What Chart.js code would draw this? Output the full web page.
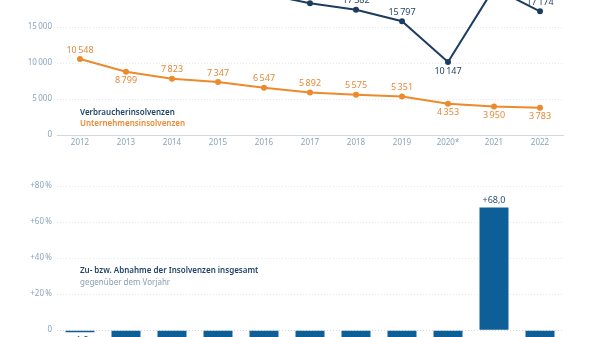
<!DOCTYPE html>
<html>
<head>
<meta charset="utf-8">
<script src="https://cdn.jsdelivr.net/npm/chart.js@4.4.0/dist/chart.umd.min.js"></script>
<style>
  html, body { margin: 0; padding: 0; background: #fff; }
  #wrap { position: relative; width: 600px; height: 337px; overflow: hidden; font-family: "Noto Sans", sans-serif; }
  #topBox { position: absolute; left: 0; top: -65px; width: 600px; height: 220px; }
  #barBox { position: absolute; left: 0; top: 152px; width: 600px; height: 260px; }
  .note { position: absolute; left: 80px; font-size: 8px; white-space: nowrap; }
  .blue { color: #22446a; font-weight: 600; }
  .orange { color: #ea8a33; font-weight: 600; }
  .sub { color: #8aa0b4; }
</style>
</head>
<body>
<div id="wrap">
  <div id="topBox"><canvas id="lineChart"></canvas></div>
  <div id="barBox"><canvas id="barChart"></canvas></div>
  <div class="note blue" style="top:106px">Verbraucherinsolvenzen</div>
  <div class="note orange" style="top:117px">Unternehmensinsolvenzen</div>
  <div class="note blue" style="top:264px">Zu- bzw. Abnahme der Insolvenzen insgesamt</div>
  <div class="note sub" style="top:276px">gegenüber dem Vorjahr</div>
</div>
<script>
// Insolvenzen 2012–2022: Verbraucher, Unternehmen, Veränderung gesamt in %
const years = ["2012", "2013", "2014", "2015", "2016", "2017", "2018", "2019", "2020*", "2021", "2022"];
const verbraucher = [24500, 23400, 22300, 21000, 19600, 18300, 17382, 15797, 10147, 20400, 17174];
const unternehmen = [10548, 8799, 7823, 7347, 6547, 5892, 5575, 5351, 4353, 3950, 3783];
const veraenderung = [-1.2, -8.1, -6.4, -5.9, -7.8, -7.5, -5.1, -7.9, -31.4, 68.0, -13.9];

const NAVY = "#1d3c5f";
const ORANGE = "#ec8a2c";
const BAR = "#0e5e98";
const TICK = "#8aa4bb";
const GRID = "#e3e6ea";
const FONT = "Noto Sans";

// Label unter dem Punkt statt darüber
const navyBelow = ["2020*"];
const orangeBelow = ["2013", "2020*", "2021", "2022"];

const fmtInt = (v) => String(v).replace(/\B(?=(\d{3})+(?!\d))/g, "\u2009");
const fmtPct = (v) => (v > 0 ? "+" : "\u2013") + Math.abs(v).toFixed(1).replace(".", ",");

const pointLabels = {
  id: "pointLabels",
  afterDatasetsDraw(chart) {
    const ctx = chart.ctx;
    ctx.save();
    ctx.font = `9px "${FONT}"`;
    ctx.textAlign = "center";
    ctx.textBaseline = "middle";
    chart.data.datasets.forEach((ds, i) => {
      const below = i === 0 ? navyBelow : orangeBelow;
      ctx.fillStyle = i === 0 ? "#2a4668" : "#e5893a";
      chart.getDatasetMeta(i).data.forEach((pt, j) => {
        const dy = below.includes(years[j]) ? 9 : -9;
        ctx.fillText(fmtInt(ds.data[j]), pt.x, pt.y + dy);
      });
    });
    ctx.restore();
  },
};

const barLabels = {
  id: "barLabels",
  afterDatasetsDraw(chart) {
    const ctx = chart.ctx;
    ctx.save();
    ctx.font = `9px "${FONT}"`;
    ctx.fillStyle = "#2d5070";
    ctx.textAlign = "center";
    chart.getDatasetMeta(0).data.forEach((bar, j) => {
      const v = veraenderung[j];
      ctx.textBaseline = v >= 0 ? "bottom" : "top";
      ctx.fillText(fmtPct(v), bar.x, v >= 0 ? bar.y - 3 : bar.y + 3.5);
    });
    ctx.restore();
  },
};

const fixWidth = (scale) => { scale.width = 57; };

new Chart(document.getElementById("lineChart"), {
  type: "line",
  data: {
    labels: years,
    datasets: [
      { data: verbraucher, borderColor: NAVY, backgroundColor: NAVY, borderWidth: 2, pointRadius: 2, pointHoverRadius: 2, tension: 0 },
      { data: unternehmen, borderColor: ORANGE, backgroundColor: ORANGE, borderWidth: 2, pointRadius: 2, pointHoverRadius: 2, tension: 0 },
    ],
  },
  options: {
    responsive: true,
    maintainAspectRatio: false,
    animation: false,
    layout: { padding: { top: 20, right: 37, bottom: 0, left: 0 } },
    plugins: { legend: { display: false }, tooltip: { enabled: false } },
    scales: {
      x: {
        offset: true,
        grid: { display: false, drawTicks: false },
        border: { display: true, color: "#d5d9de" },
        ticks: { color: TICK, font: { family: FONT, size: 8 }, padding: 3 },
        afterFit: (s) => { s.height = 20; },
      },
      y: {
        min: 0,
        max: 25000,
        afterFit: fixWidth,
        border: { display: false, dash: [1, 2] },
        grid: { color: GRID, drawTicks: false, lineWidth: 1 },
        ticks: { stepSize: 5000, color: TICK, font: { family: FONT, size: 8 }, padding: 5, callback: (v) => fmtInt(v) },
      },
    },
  },
  plugins: [pointLabels],
});

new Chart(document.getElementById("barChart"), {
  type: "bar",
  data: {
    labels: years,
    datasets: [{ data: veraenderung, backgroundColor: BAR, barPercentage: 0.63, categoryPercentage: 1 }],
  },
  options: {
    responsive: true,
    maintainAspectRatio: false,
    animation: false,
    layout: { padding: { top: 34, right: 37, bottom: 8.5, left: 0 } },
    plugins: { legend: { display: false }, tooltip: { enabled: false } },
    scales: {
      x: { display: false },
      y: {
        min: -40,
        max: 80,
        afterFit: fixWidth,
        border: { display: false, dash: [1, 2] },
        grid: {
          drawTicks: false,
          color: (c) => (c.tick && c.tick.value === 0 ? "#d5d9de" : c.tick && c.tick.value < 0 ? "rgba(0,0,0,0)" : GRID),
        },
        ticks: {
          stepSize: 20,
          color: TICK,
          font: { family: FONT, size: 8 },
          padding: 5,
          callback: (v) => (v > 0 ? "+" + v + "\u2009%" : v === 0 ? "0" : ""),
        },
      },
    },
  },
  plugins: [barLabels],
});
</script>
</body>
</html>
